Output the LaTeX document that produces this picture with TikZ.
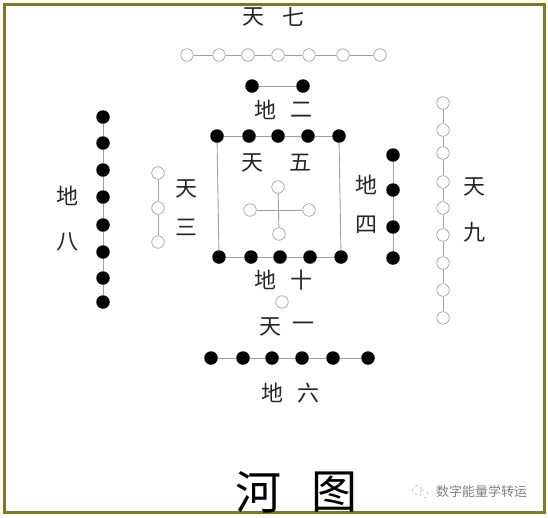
\documentclass[tikz,border=0pt]{standalone}
\usepackage{fontspec}
\newfontfamily\cjk{Noto Sans CJK SC}
\definecolor{frameolive}{RGB}{122,121,46}
\definecolor{linkgray}{RGB}{160,160,160}
\begin{document}
\begin{tikzpicture}[x=1pt,y=-1pt,
  wdot/.style={circle,draw=linkgray,fill=white,line width=0.7pt,minimum size=12.5pt,inner sep=0pt},
  bdot/.style={circle,fill=black,minimum size=13.5pt,inner sep=0pt},
  link/.style={draw=linkgray,line width=0.9pt},
  lab/.style={font=\cjk\fontsize{22}{22}\selectfont,inner sep=0pt,text=black!85},
  titletext/.style={font=\cjk\fontsize{46}{46}\selectfont,inner sep=0pt},
  wmtext/.style={font=\cjk\fontsize{13}{13}\selectfont,inner sep=0pt,text=gray}]
\useasboundingbox (0,0) rectangle (548,517);
\fill[yellow!6] (0,0) rectangle (548,517);
\draw[draw=frameolive,line width=3pt,fill=white] (4.5,4.5) rectangle (544.5,512.5);

% 天七 (top row, 7 open)
\node[lab] (tq1) at (253,17) {天};
\node[lab] (tq2) at (293,17) {七};
\foreach \x [count=\i] in {187,219,248,278,309,343,380}
  \node[wdot] (s\i) at (\x,55) {};
\foreach \i in {1,...,6}{\pgfmathtruncatemacro\j{\i+1}\draw[link] (s\i) -- (s\j);}

% 地二
\node[bdot] (e1) at (252,86) {};
\node[bdot] (e2) at (303,86) {};
\draw[link] (e1) -- (e2);
\node[lab] (de1) at (265,110) {地};
\node[lab] (de2) at (301,110) {二};

% square of 地十
\foreach \x [count=\i] in {217,249,278,308,339}
  \node[bdot] (a\i) at (\x,136) {};
\foreach \x [count=\i] in {219,251,280,310,341}
  \node[bdot] (b\i) at (\x,257) {};
\foreach \i in {1,...,4}{\pgfmathtruncatemacro\j{\i+1}\draw[link] (a\i) -- (a\j);\draw[link] (b\i) -- (b\j);}
\draw[link] (a1) -- (b1);
\draw[link] (a5) -- (b5);

% 天五
\node[lab] (tw1) at (252,163) {天};
\node[lab] (tw2) at (300,163) {五};
\node[wdot] (cn) at (278,187) {};
\node[wdot] (cw) at (250,210) {};
\node[wdot] (ce) at (309,210) {};
\node[wdot] (cs) at (279,234) {};
\draw[link] (cn) -- (cs);
\draw[link] (cw) -- (ce);

% 地十
\node[lab] (ds1) at (265,280) {地};
\node[lab] (ds2) at (301,280) {十};

% 天一
\node[wdot] (one) at (282,302) {};
\node[lab] (ty1) at (270,327) {天};
\node[lab] (ty2) at (303,327) {一};

% 地六
\foreach \x [count=\i] in {211,243,272,302,333,368}
  \node[bdot] (l\i) at (\x,358) {};
\foreach \i in {1,...,5}{\pgfmathtruncatemacro\j{\i+1}\draw[link] (l\i) -- (l\j);}
\node[lab] (dl1) at (272,393) {地};
\node[lab] (dl2) at (308,393) {六};

% 地八
\foreach \y [count=\i] in {117,143,170,197,225,252,278,302}
  \node[bdot] (p\i) at (103,\y) {};
\foreach \i in {1,...,7}{\pgfmathtruncatemacro\j{\i+1}\draw[link] (p\i) -- (p\j);}
\node[lab] (db1) at (67,196) {地};
\node[lab] (db2) at (67,242) {八};

% 天三
\foreach \y [count=\i] in {173,208,242}
  \node[wdot] (m\i) at (158,\y) {};
\draw[link] (m1) -- (m2);
\draw[link] (m2) -- (m3);
\node[lab] (ts1) at (186,189) {天};
\node[lab] (ts2) at (186,227) {三};

% 地四
\foreach \y [count=\i] in {155,190,227,258}
  \node[bdot] (f\i) at (393,\y) {};
\foreach \i in {1,...,3}{\pgfmathtruncatemacro\j{\i+1}\draw[link] (f\i) -- (f\j);}
\node[lab] (df1) at (366,185) {地};
\node[lab] (df2) at (366,225) {四};

% 天九
\foreach \y [count=\i] in {103,130,153,182,208,235,263,290,318}
  \node[wdot] (n\i) at (443,\y) {};
\foreach \i in {1,...,8}{\pgfmathtruncatemacro\j{\i+1}\draw[link] (n\i) -- (n\j);}
\node[lab] (tn1) at (474,187) {天};
\node[lab] (tn2) at (474,232) {九};

% title
\node[titletext] (h1) at (258,492) {河};
\node[titletext] (h2) at (334,492) {图};

% watermark
\node[circle,draw=gray!60,dashed,line width=0.5pt,minimum size=9pt,inner sep=0pt] (wx1) at (417,490) {};
\node[circle,draw=gray!60,dashed,line width=0.5pt,fill=white,minimum size=8pt,inner sep=0pt] (wx2) at (424,494) {};
\node[wmtext,anchor=west] (wm) at (436,492) {数字能量学转运};
\end{tikzpicture}
\end{document}
